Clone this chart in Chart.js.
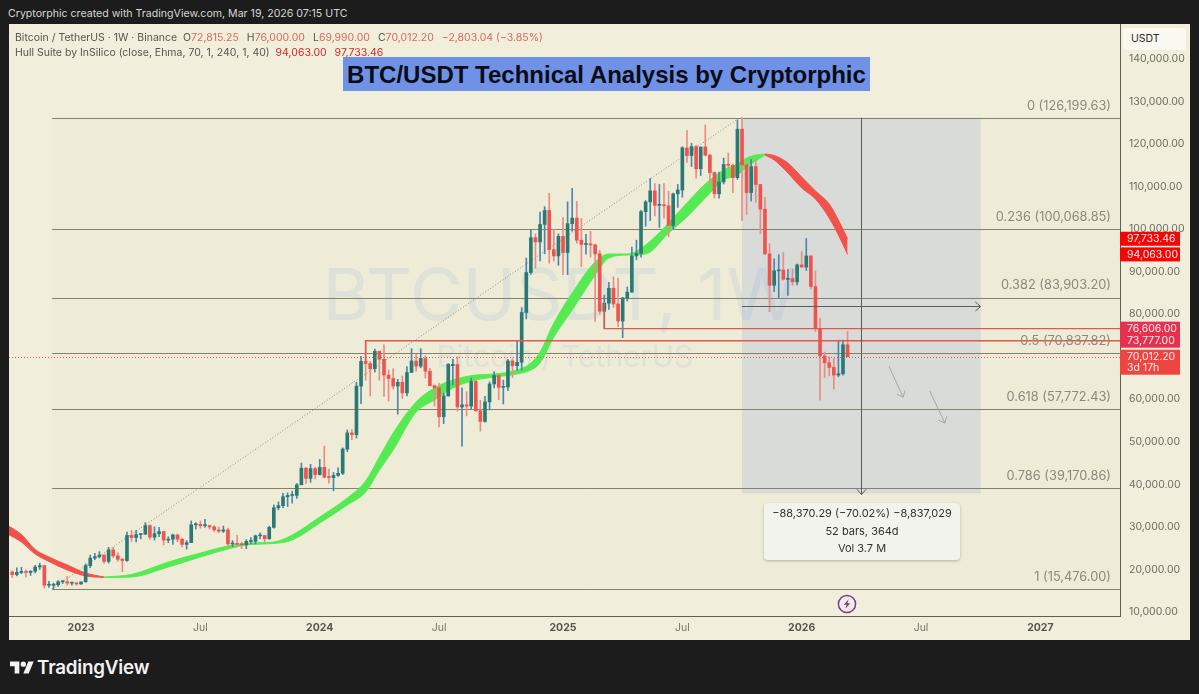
<!DOCTYPE html>
<html>
<head>
<meta charset="utf-8">
<title>BTC/USDT Technical Analysis by Cryptorphic</title>
<script src="https://cdn.jsdelivr.net/npm/chart.js@4"></script>
<style>
  html, body { margin: 0; padding: 0; width: 1199px; height: 694px; overflow: hidden; background: #1c1c1c; font-family: Inter, sans-serif; }
  .abs { position: absolute; white-space: nowrap; }
  #pane { left: 9px; top: 24px; width: 1181px; height: 616px; background: #f1eedb; }
  #chart { position: absolute; left: 9px; top: 24px; }
  #header { left: 8px; top: 7px; font-size: 10.6px; color: #d6d6d6; line-height: 14px; }
  .legend { left: 15px; font-size: 10.5px; color: #56564f; line-height: 14px; }
  .legend b { font-weight: 400; color: #d9695f; margin-right: 5px; }
  .legend i { font-style: normal; color: #cf2a2a; margin-right: 5px; }
  #title { left: 343px; top: 57px; width: 527px; height: 34px; line-height: 35px; text-align: center; background: #6f92e6; color: #0b0b14; font-family: "Liberation Sans", sans-serif; font-weight: 700; font-size: 24px; }
  #usdt { left: 1123px; top: 28px; width: 55px; padding-left: 8px; height: 22px; line-height: 22px; font-size: 10.5px; color: #2a2a26; background: #f9f8f1; border-radius: 3px; }
  #stats { left: 764px; top: 503px; width: 196px; height: 57px; background: #f3f3ee; border-radius: 4px; box-shadow: 0 1px 3px rgba(0,0,0,.25); text-align: center; font-size: 11px; line-height: 17.6px; color: #33332e; padding-top: 2px; box-sizing: border-box; }
  #brand { left: 37px; top: 656px; font-size: 18.8px; font-weight: 600; color: #f2f2f2; letter-spacing: -.2px; line-height: 23px; }
</style>
</head>
<body>
<div class="abs" id="pane"></div>
<canvas id="chart" width="1181" height="616"></canvas>
<div class="abs" id="header">Cryptorphic created with TradingView.com, Mar 19, 2026 07:15 UTC</div>
<div class="abs legend" style="top:31px">Bitcoin / TetherUS · 1W · Binance &nbsp;O<b>72,815.25</b> H<b>76,000.00</b> L<b>69,990.00</b> C<b>70,012.20</b> <b>−2,803.04 (−3.85%)</b></div>
<div class="abs legend" style="top:46px">Hull Suite by InSilico (close, Ehma, 70, 1, 240, 1, 40) &nbsp;<i>94,063.00</i> <i>97,733.46</i></div>
<div class="abs" id="title">BTC/USDT Technical Analysis by Cryptorphic</div>
<div class="abs" id="usdt">USDT</div>
<div class="abs" id="stats">−88,370.29 (−70.02%) −8,837,029<br>52 bars, 364d<br>Vol 3.7 M</div>
<svg class="abs" style="left:837px;top:594px" width="20" height="20" viewBox="0 0 20 20">
  <circle cx="10" cy="10" r="8.6" fill="none" stroke="#7a35a8" stroke-width="1.5"/>
  <path d="M11.6 5.2 L6.8 10.8 H9.6 L8.4 14.8 L13.2 9.2 H10.4 Z" fill="#7a35a8"/>
</svg>
<svg class="abs" style="left:10px;top:660px" width="24" height="15" viewBox="0 2 36 22">
  <path d="M14 22H7V11H0V4h14v18zM28 22h-8l7.5-18h8L28 22z" fill="#f2f2f2"/>
  <circle cx="20" cy="8" r="4" fill="#f2f2f2"/>
</svg>
<div class="abs" id="brand">TradingView</div>

<script>
// weekly candles, first bar = week of Sep 19 2022
const opens = [
  19400,18800,19300,19400,19300,19600,20600,20900,16300,16300,16400,17100,17100,16800,16800,16600,17100,20900,22700,23000,
  23400,21900,24600,23200,22400,22100,28000,27500,28200,28300,30300,27600,28400,28900,26900,27100,28100,27100,25900,26300,
  30500,30600,30300,30300,30000,29300,29000,29300,26000,26100,25900,25800,26600,26600,27900,28000,27200,29900,34500,35000,
  37100,37400,37400,39900,43800,41400,43700,42300,44000,41700,41600,42100,42600,48300,52100,51700,63100,68900,68400,67200,
  71300,69400,65700,64900,63100,64000,61500,66300,69000,67800,69600,66600,63200,62700,55900,60800,67900,68200,58200,58700,
  58400,64200,57300,54800,59400,63600,65600,62800,62900,69000,67900,68700,80400,89800,98000,97000,101100,104400,95200,93700,
  98300,94500,101300,102600,97400,96400,96400,96300,94200,80700,82600,86100,82400,78400,83800,85200,93700,94300,104100,106400,
  109000,105600,105700,105500,100900,108300,109200,119100,117300,119400,114200,119300,117400,113300,108300,111100,115200,115000,112100,123500,
  115100,108600,114700,110500,104700,94200,86800,90200,90400,88200,88400,87600,91600,91100,93700,86500,76700,70200,68600,67500,
  65700,66000,72815.25];
const highs = [
  19700,20400,20500,19900,19700,21000,21500,21000,17200,16800,17400,17400,18400,17000,16900,17000,21300,23400,23800,24200,
  23400,25200,25200,23900,22600,28800,29200,29200,28400,31000,30500,30000,29900,29000,27700,28300,28400,27400,26800,31400,
  31000,31400,31800,30400,30300,30000,30200,29700,26800,28100,26400,27000,27500,28100,28600,28000,30200,35200,35900,37900,
  38000,38400,40200,45000,44000,44700,44000,45900,49000,43600,42800,43900,48600,52800,52900,64000,70100,73800,68900,71800,
  71300,72800,66900,67200,64700,65500,67700,71900,70600,71900,70200,67300,63400,63800,61400,68400,69400,70000,62700,61800,
  65000,64500,59800,60700,64100,66500,65600,64500,69400,69500,73600,81500,93200,99800,98900,104000,105300,108400,99900,98900,
  102700,106400,109600,106500,102500,98800,99500,96500,95000,84500,87500,88800,88500,84000,86400,95800,97400,104400,106700,111900,
  110700,110500,110700,108900,108500,110500,119400,123200,120200,119700,119300,124500,117600,113500,113400,116700,117900,115300,125700,126199.63,
  115900,116400,116400,110500,107500,96600,93000,94000,94500,90500,90600,91800,94700,97800,93800,90200,79100,71100,70000,69600,
  73900,73900,76000];
const lows = [
  18100,18500,19000,18200,18600,19200,20000,15600,15800,15476,16000,16700,16300,16300,16300,16500,17000,20400,22300,22700,
  21400,21500,22800,21900,19500,21900,26600,26500,27200,28200,27100,26900,27700,25800,26300,25900,26500,25300,24800,26300,
  29500,29700,29900,29500,28900,28600,28700,25200,25300,25300,24900,24900,26000,26000,27200,26500,27100,29700,34000,34500,
  34800,35600,36700,39900,40200,40500,41300,42200,41500,40300,38500,41900,42300,47700,50500,50900,59000,64500,60800,66400,
  64500,60700,59600,62400,56500,60200,60800,66300,66600,67400,65000,63400,58400,53500,54300,60700,63400,57200,49000,56100,
  57800,57200,52500,54600,57500,62700,59900,58900,62000,65100,66800,66800,78900,89400,90800,92500,94200,92000,92500,91500,
  89300,89300,99500,96700,91200,94100,93400,78300,80000,76606,81100,81600,77100,74500,83100,85100,92800,93400,100700,102000,
  103100,100400,102600,98200,100000,105100,107500,115700,114700,112000,112600,117200,110700,107300,107300,110600,114400,108600,111700,102000,
  103500,106600,106300,98900,94000,80600,85300,83800,88000,84400,86800,86900,90900,90300,85900,75900,59800,65100,65500,62400,
  65300,65700,69990];
const closes = [
  18800,19300,19400,19300,19600,20600,20900,16300,16300,16400,17100,17100,16800,16800,16600,17100,20900,22700,23000,23400,
  21900,24600,23200,22400,22100,28000,27500,28200,28300,30300,27600,28400,28900,26900,27100,28100,27100,25900,26300,30500,
  30600,30300,30300,30000,29300,29000,29300,26000,26100,25900,25800,26600,26600,27900,28000,27200,29900,34500,35000,37100,
  37400,37400,39900,43800,41400,43700,42300,44000,41700,41600,42100,42600,48300,52100,51700,63100,68900,68400,67200,71300,
  69400,65700,64900,63100,64000,61500,66300,69000,67800,69600,66600,63200,62700,55900,60800,68200,68200,58200,58700,58400,
  64200,57300,54800,59400,63600,65600,62800,62900,69000,67900,68700,80400,89800,98000,97000,101100,104400,95200,93700,98300,
  94500,101300,102600,97400,96400,96400,96300,94200,80700,82600,86100,82400,78400,83800,85200,93700,94300,104100,106400,109000,
  105600,105700,105500,100900,108300,109200,119100,117300,119400,114200,119300,117400,113300,108300,111100,115200,115000,112100,123500,115100,
  108600,114700,110500,104700,94200,86800,90200,90400,88200,88400,87600,91600,91100,93700,86500,76700,70200,68600,67500,65700,
  66000,72815.25,70012.2];

// Hull Suite band, read at a few weeks along its length
const hullRedLeftWeeks  = [-1, 2, 5, 8, 12, 16, 20];
const hullRedLeftUpper  = [30334, 28218, 24692, 22929, 21048, 19168, 18227];
const hullRedLeftLower  = [28335, 26455, 23634, 21871, 19873, 18463, 18110];
const hullGreenWeeks = [20, 26, 34, 41, 47, 52, 57, 61, 67, 73, 77, 80, 83, 88, 92, 96, 101, 105, 110, 113, 115, 118, 122, 127, 130, 134, 138, 143, 147, 151, 155, 158, 160, 162, 164];
const hullGreenUpper = [18227, 18815, 21754, 23869, 25515, 26220, 26455, 28100, 32332, 36798, 40794, 46436, 52078, 59365, 62656, 64536, 65712, 65947, 66887, 68532, 71118, 77935, 84987, 92275, 94156, 94156, 96271, 101443, 106145, 110611, 113902, 115313, 116724, 117429, 117664];
const hullGreenLower = [18110, 18227, 20578, 22929, 24809, 25867, 26102, 26925, 30921, 35153, 38208, 43380, 48081, 57014, 59835, 62656, 64536, 65241, 65947, 66887, 68532, 74644, 80991, 89219, 93216, 93921, 94156, 99092, 102869, 107320, 111551, 112726, 114608, 116019, 117429];
const hullRedRightWeeks = [164, 166, 169, 172, 175, 178, 180, 182];
const hullRedRightUpper = [117664, 117311, 115548, 112255, 108964, 105908, 102147, 97733.46];
const hullRedRightLower = [117429, 116253, 113197, 109669, 107084, 102618, 98621, 94063];

// fib retracement drawing
const fibLevels = [126199.63, 100068.85, 83903.2, 70837.82, 57772.43, 39170.86, 15476];
const fibLabels = ['0 (126,199.63)', '0.236 (100,068.85)', '0.382 (83,903.20)', '0.5 (70,837.82)', '0.618 (57,772.43)', '0.786 (39,170.86)', '1 (15,476.00)'];
const fibStartWeek = 8.7;
const trendWeeks = [8.7, 158.5];
const trendPrices = [15476, 126199.63];

// measure tool, rays, hand drawn arrows
const measureWeeks = [159, 211];
const measurePrices = [126199.63, 37829.34];
const measureMidWeek = 185;
const measureArrowPrice = 82000;
const rayStartWeeks = [77, 129];
const rayPrices = [73777, 76606];
const rayEndPrices = [68900, 82600];
const arrowsWeeks = [[191, 194.1], [199.9, 203.2]];
const arrowsPrices = [[67800, 60500], [61950, 54400]];
const lastPrice = 70012.2;

// axes
const priceTicks = [10000, 20000, 30000, 40000, 50000, 60000, 70000, 80000, 90000, 100000, 110000, 120000, 130000, 140000];
const timeTicks = [15, 41, 67, 93, 120, 146, 172, 198, 224];
const timeLabels = ['2023', 'Jul', '2024', 'Jul', '2025', 'Jul', '2026', 'Jul', '2027'];

// coloured tags on the price axis
const tagPrices = [97733.46, 94063, 76606, 73777, 70012.2];
const tagTexts = ['97,733.46', '94,063.00', '76,606.00', '73,777.00', '70,012.20'];
const tagColors = ['#f50505', '#f50505', '#e5314f', '#e5314f', '#ef4541'];
const countdown = '3d 17h';

const UP = '#2a7a74', DOWN = '#ef5350', UP_WICK = '#4a86ad', DOWN_WICK = '#e98d82';
const HULL_GREEN = '#56ea52', HULL_RED = '#f1534c';
const FONT = 'Inter, sans-serif';

const weeks = opens.map((_, i) => i);
const points = (xs, ys) => xs.map((x, i) => ({ x, y: ys[i] }));

function hullPair(label, xs, upper, lower, color) {
  const base = { type: 'line', pointRadius: 0, borderWidth: 1, borderColor: color, cubicInterpolationMode: 'monotone', order: 3 };
  return [
    { ...base, label: label + ' upper', data: points(xs, upper), fill: '+1', backgroundColor: color },
    { ...base, label: label + ' lower', data: points(xs, lower), fill: false },
  ];
}

// everything drawn by hand goes through the chart scales
const drawings = {
  id: 'drawings',
  beforeDatasetsDraw(chart) {
    const { ctx, chartArea: a, scales: { x, y } } = chart;
    ctx.save();
    ctx.beginPath(); ctx.rect(a.left, a.top, a.width, a.height); ctx.clip();

    // fib background
    const fibX = x.getPixelForValue(fibStartWeek);
    ctx.fillStyle = 'rgba(120,120,90,0.025)';
    ctx.fillRect(fibX, y.getPixelForValue(fibLevels[0]), a.right - fibX, y.getPixelForValue(fibLevels[6]) - y.getPixelForValue(fibLevels[0]));

    // watermark
    ctx.fillStyle = 'rgba(110,160,225,0.13)';
    ctx.font = '72px ' + FONT;
    ctx.textAlign = 'center'; ctx.textBaseline = 'middle';
    ctx.fillText('BTCUSDT, 1W', 551, 274);
    ctx.font = '30px ' + FONT;
    ctx.fillText('Bitcoin / TetherUS', 556, 334);

    // measure box
    const bx0 = x.getPixelForValue(measureWeeks[0]), bx1 = x.getPixelForValue(measureWeeks[1]);
    const by0 = y.getPixelForValue(measurePrices[0]), by1 = y.getPixelForValue(measurePrices[1]);
    ctx.fillStyle = 'rgba(131,153,218,0.2)';
    ctx.fillRect(bx0, by0, bx1 - bx0, by1 - by0);

    // fib lines
    ctx.strokeStyle = '#85826c';
    ctx.lineWidth = 1;
    fibLevels.forEach(v => {
      const py = Math.round(y.getPixelForValue(v)) + 0.5;
      ctx.beginPath(); ctx.moveTo(fibX, py); ctx.lineTo(a.right, py); ctx.stroke();
    });

    // dotted trend line of the fib
    ctx.strokeStyle = '#8f8d7d';
    ctx.setLineDash([1, 2]);
    ctx.beginPath();
    ctx.moveTo(x.getPixelForValue(trendWeeks[0]), y.getPixelForValue(trendPrices[0]));
    ctx.lineTo(x.getPixelForValue(trendWeeks[1]), y.getPixelForValue(trendPrices[1]));
    ctx.stroke();
    ctx.setLineDash([]);
    ctx.restore();
  },
  afterDatasetsDraw(chart) {
    const { ctx, chartArea: a, scales: { x, y } } = chart;
    ctx.save();

    // red rays
    ctx.strokeStyle = '#e2574f';
    ctx.lineWidth = 1.4;
    rayPrices.forEach((v, i) => {
      const px = x.getPixelForValue(rayStartWeeks[i]);
      const py = y.getPixelForValue(v);
      ctx.beginPath();
      ctx.moveTo(px, y.getPixelForValue(rayEndPrices[i]));
      ctx.lineTo(px, py);
      ctx.lineTo(a.right, py);
      ctx.stroke();
    });

    // last price dotted line
    const lastY = Math.round(y.getPixelForValue(lastPrice)) + 0.5;
    ctx.strokeStyle = '#e2574f';
    ctx.lineWidth = 1;
    ctx.setLineDash([1, 2]);
    ctx.beginPath(); ctx.moveTo(a.left, lastY); ctx.lineTo(a.right, lastY); ctx.stroke();
    ctx.setLineDash([]);

    // fib labels
    ctx.font = '12.8px ' + FONT;
    ctx.fillStyle = '#8b8a7c';
    ctx.textAlign = 'right'; ctx.textBaseline = 'middle';
    fibLevels.forEach((v, i) => ctx.fillText(fibLabels[i], a.right - 9, y.getPixelForValue(v) - 12));

    // measure tool arrows
    const arrow = (x0, y0, x1, y1, color, width, head) => {
      const ang = Math.atan2(y1 - y0, x1 - x0);
      ctx.strokeStyle = color; ctx.lineWidth = width;
      ctx.beginPath();
      ctx.moveTo(x0, y0); ctx.lineTo(x1, y1);
      ctx.moveTo(x1 - head * Math.cos(ang - 0.7), y1 - head * Math.sin(ang - 0.7));
      ctx.lineTo(x1, y1);
      ctx.lineTo(x1 - head * Math.cos(ang + 0.7), y1 - head * Math.sin(ang + 0.7));
      ctx.stroke();
    };
    const midX = Math.round(x.getPixelForValue(measureMidWeek)) + 0.5;
    arrow(midX, y.getPixelForValue(measurePrices[0]), midX, y.getPixelForValue(measurePrices[1]) + 1, '#5c5c5c', 1, 7);
    const hy = Math.round(y.getPixelForValue(measureArrowPrice)) + 0.5;
    arrow(x.getPixelForValue(measureWeeks[0]), hy, x.getPixelForValue(measureWeeks[1]), hy, '#5c5c5c', 1, 7);
    arrowsWeeks.forEach((w, i) => arrow(
      x.getPixelForValue(w[0]), y.getPixelForValue(arrowsPrices[i][0]),
      x.getPixelForValue(w[1]), y.getPixelForValue(arrowsPrices[i][1]), '#a3a6a8', 1, 7));

    // price axis tags
    ctx.font = '10.5px ' + FONT;
    ctx.textAlign = 'left';
    tagPrices.forEach((v, i) => {
      const py = y.getPixelForValue(v);
      const last = i === tagPrices.length - 1;
      ctx.fillStyle = tagColors[i];
      ctx.fillRect(a.right, py - 7, 60, last ? 25 : 14);
      ctx.fillStyle = '#fff1ee';
      ctx.fillText(tagTexts[i], a.right + 7, py);
      if (last) ctx.fillText(countdown, a.right + 7, py + 11.5);
    });
    ctx.restore();
  },
};

new Chart(document.getElementById('chart'), {
  type: 'bar',
  data: {
    datasets: [
      { label: 'Bodies', order: 1, barThickness: 3, minBarLength: 1, borderWidth: 0,
        data: points(weeks, opens.map((o, i) => [o, closes[i]])),
        backgroundColor: opens.map((o, i) => closes[i] >= o ? UP : DOWN) },
      { label: 'Wicks', order: 2, barThickness: 1, borderWidth: 0,
        data: points(weeks, lows.map((l, i) => [l, highs[i]])),
        backgroundColor: opens.map((o, i) => closes[i] >= o ? UP_WICK : DOWN_WICK) },
      ...hullPair('Hull red', hullRedLeftWeeks, hullRedLeftUpper, hullRedLeftLower, HULL_RED),
      ...hullPair('Hull green', hullGreenWeeks, hullGreenUpper, hullGreenLower, HULL_GREEN),
      ...hullPair('Hull red 2', hullRedRightWeeks, hullRedRightUpper, hullRedRightLower, HULL_RED),
    ],
  },
  options: {
    responsive: false,
    animation: false,
    events: [],
    grouped: false,
    layout: { padding: 0, autoPadding: false },
    plugins: { legend: { display: false }, tooltip: { enabled: false } },
    scales: {
      x: {
        type: 'linear',
        offset: false,
        min: -0.7,
        max: 241.35,
        grid: { display: false },
        border: { color: '#5f5f55', width: 1 },
        afterFit: s => { s.height = 24; s.paddingLeft = 0; s.paddingRight = 0; },
        afterBuildTicks: s => { s.ticks = timeTicks.map(value => ({ value })); },
        ticks: {
          autoSkip: false,
          maxRotation: 0,
          padding: -2,
          callback: (v, i) => timeLabels[i],
          color: c => c.index % 2 === 0 ? '#55554c' : '#77776c',
          font: c => ({ family: FONT, size: 10.5, weight: c.index % 2 === 0 ? '700' : '400' }),
        },
      },
      y: {
        type: 'linear',
        position: 'right',
        min: 9060,
        max: 148222,
        grid: { display: false },
        border: { color: '#5f5f55', width: 1 },
        afterFit: s => { s.width = 70; s.paddingTop = 0; s.paddingBottom = 0; },
        afterBuildTicks: s => { s.ticks = priceTicks.map(value => ({ value })); },
        ticks: {
          autoSkip: false,
          padding: 1,
          color: '#6d6d63',
          font: { family: FONT, size: 10.5 },
          callback: v => v.toLocaleString('en-US', { minimumFractionDigits: 2 }),
        },
      },
    },
  },
  plugins: [drawings],
});
</script>
</body>
</html>
